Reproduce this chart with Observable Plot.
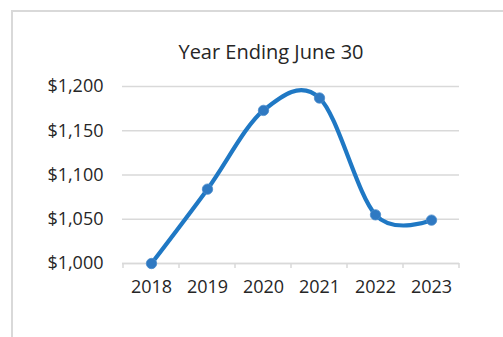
<!DOCTYPE html>
<html>
<head>
<meta charset="utf-8">
<script src="https://cdn.jsdelivr.net/npm/d3@7"></script>
<script src="https://cdn.jsdelivr.net/npm/@observablehq/plot@0.6"></script>
<style>
  html, body { margin: 0; padding: 0; background: #fff; overflow: hidden; }
  #wrap { position: relative; width: 503px; height: 337px; }
  #frame { position: absolute; left: 11px; top: 10px; width: 600px; height: 400px;
           border-left: 2px solid #d9d9d9; border-top: 2px solid #d9d9d9; box-sizing: border-box; }
  #title { position: absolute; left: 0; width: 542px; top: 40px; text-align: center;
           font-family: "Open Sans", sans-serif; font-size: 20px; line-height: 24px; color: #262626; }
  #chart { position: absolute; left: 0; top: 0; }
  #chart svg text { font-family: "Open Sans", sans-serif !important; font-size: 18px !important; fill: #262626; }
</style>
</head>
<body>
<div id="wrap">
  <div id="frame"></div>
  <div id="chart"></div>
  <div id="title">Year Ending June 30</div>
</div>
<script>
const years = ["2018", "2019", "2020", "2021", "2022", "2023"];
const values = [1000, 1084, 1173, 1187, 1055, 1049];
const yTicks = [1000, 1050, 1100, 1150, 1200];

const data = years.map((y, i) => ({year: y, value: values[i]}));
const fmt = d => "$" + d3.format(",")(d);

const chart = Plot.plot({
  width: 503,
  height: 337,
  marginLeft: 122,
  marginRight: 44,
  marginTop: 86,
  marginBottom: 74,
  x: {type: "band", domain: years, padding: 0, label: null},
  y: {domain: [1000, 1200], label: null},
  marks: [
    Plot.gridY(yTicks, {stroke: "#d9d9d9", strokeOpacity: 1, strokeWidth: 1.5}),
    Plot.ruleY([1000], {stroke: "#d9d9d9", strokeWidth: 1.5}),
    Plot.axisX({tickSize: 0, tickPadding: 17}),
    Plot.axisY(yTicks, {tickSize: 0, tickPadding: 19, tickFormat: fmt}),
    Plot.line(data, {x: "year", y: "value", stroke: "#1f78c4", strokeWidth: 4.2, curve: "cardinal", tension: 0}),
    Plot.dot(data, {x: "year", y: "value", r: 5.2, fill: "#2f79c2", stroke: "#4a8ccc", strokeWidth: 0.8})
  ]
});
document.getElementById("chart").appendChild(chart);

// band-boundary tick marks below the baseline, positioned from the band scale
const xs = chart.scale("x");
const ys = chart.scale("y");
const svg = d3.select(chart);
const bounds = years.map(y => xs.apply(y)).concat([xs.apply(years[years.length - 1]) + xs.bandwidth]);
svg.append("g").selectAll("line").data(bounds).join("line")
  .attr("x1", d => d).attr("x2", d => d)
  .attr("y1", ys.apply(1000)).attr("y2", ys.apply(1000) + 5)
  .attr("stroke", "#d9d9d9").attr("stroke-width", 1.5);
</script>
</body>
</html>
